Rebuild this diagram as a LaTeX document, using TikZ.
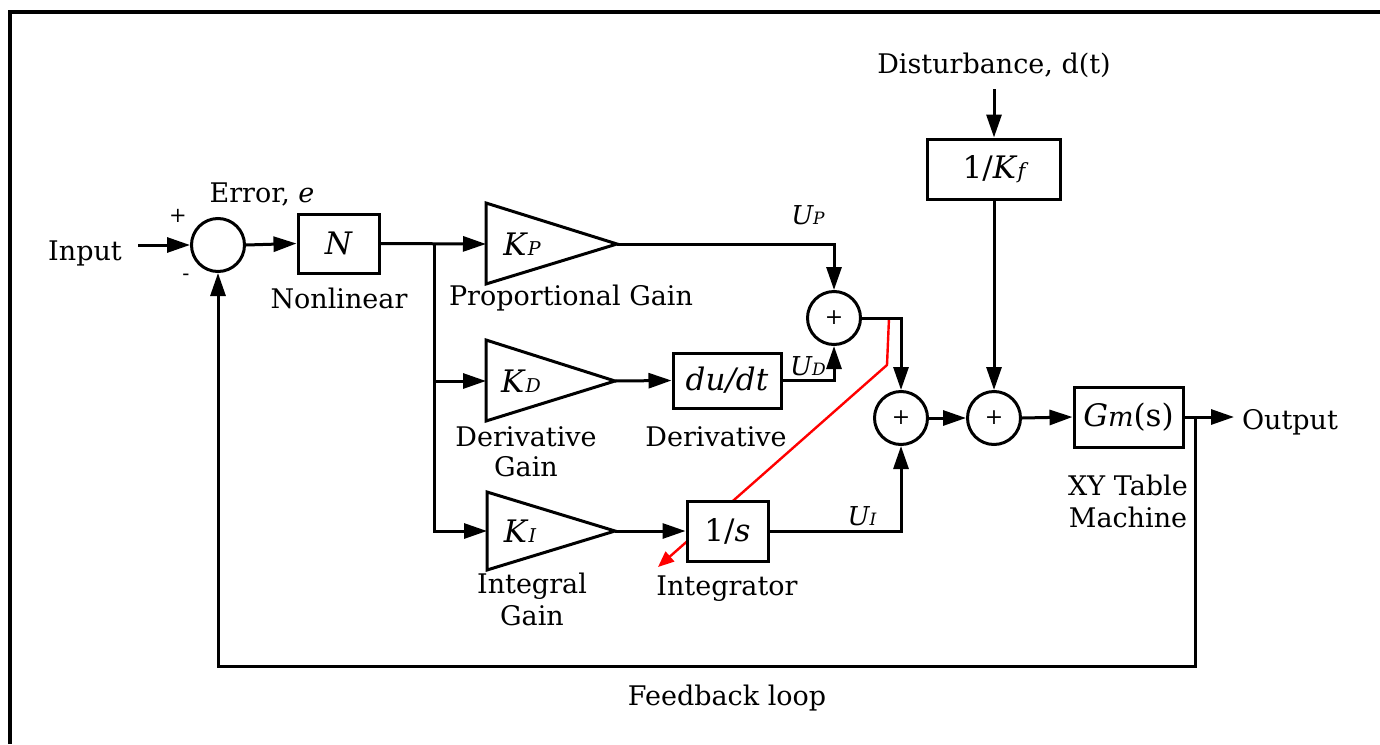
\documentclass[tikz,border=0pt]{standalone}
\usepackage{fontspec}
\setmainfont{DejaVu Serif}
\usetikzlibrary{arrows.meta}
\begin{document}
\begin{tikzpicture}[x=1pt,y=-1pt,line width=3pt,
  >={Triangle[length=23pt,width=15pt]},
  txt/.style={font=\fontsize{27}{30}\selectfont,inner sep=0pt,anchor=base},
  big/.style={font=\fontsize{31}{34}\selectfont},
  blk/.style={draw,fill=white,inner sep=0pt},
  sumc/.style={draw,fill=white,circle,minimum size=53pt,inner sep=0pt,font=\fontsize{22}{24}\selectfont},
  gain/.style={draw,line join=miter},
  lbl/.style={font=\fontsize{26}{28}\selectfont\itshape,inner sep=0pt},
  sgn/.style={font=\fontsize{21}{22}\selectfont,inner sep=0pt},
  redline/.style={draw=red,line width=2.4pt,-{Triangle[length=16pt,width=13pt]}}]

\useasboundingbox (0,0) rectangle (1380,744);
\draw[line width=4.5pt] (10,744) -- (10,12) -- (1380,12);

% red line (behind the integrator block)
\coordinate (r1) at (889,318);
\coordinate (r2) at (887,365);
\coordinate (r3) at (658,567);
\draw[redline] (r1) -- (r2) -- (r3);

% summing junctions
\node[sumc] (s1) at (218,245) {};
\node[sumc] (s2) at (834,318) {+};
\node[sumc] (s3) at (901,418) {+};
\node[sumc] (s4) at (994,418) {+};

% blocks
\node[blk,minimum width=81pt,minimum height=59pt,big] (N) at (338.5,243.5) {\itshape N};
\node[blk,minimum width=108pt,minimum height=55pt,big] (dd) at (727,380.5) {\itshape du/dt};
\node[blk,minimum width=81pt,minimum height=60pt,big] (is) at (727.5,531) {1/\textit{s}};
\node[blk,minimum width=133pt,minimum height=60pt,big] (kf) at (994,169) {1/\textit{K}{\fontsize{21}{22}\selectfont\itshape f}};
\node[blk,minimum width=109pt,minimum height=60pt,big] (gm) at (1128.5,417) {\textit{G}{\fontsize{27}{28}\selectfont\itshape m}(s)};

% gain triangles
\draw[gain] (486,203) -- (617,244) -- (486,284) -- cycle;
\coordinate (kpi) at (486,244); \coordinate (kpo) at (617,244);
\node[big,inner sep=0pt] (kp) at (522,244) {\textit{K}{\fontsize{19}{20}\selectfont\itshape P}};
\draw[gain] (486,340) -- (615,381) -- (486,421) -- cycle;
\coordinate (kdi) at (486,381); \coordinate (kdo) at (615,381);
\node[big,inner sep=0pt] (kd) at (521,381) {\textit{K}{\fontsize{19}{20}\selectfont\itshape D}};
\draw[gain] (487,492) -- (615,531) -- (487,570) -- cycle;
\coordinate (kii) at (487,531); \coordinate (kio) at (615,531);
\node[big,inner sep=0pt] (ki) at (520,531) {\textit{K}{\fontsize{19}{20}\selectfont\itshape I}};

% texts
\node[txt] (tin) at (85,260) {Input};
\node[txt] (terr) at (262,202) {Error, \textit{e}};
\node[sgn] (tplus) at (178,216) {+};
\node[sgn] (tminus) at (186,277) {-};
\node[txt] (tnl) at (339,308) {Nonlinear};
\node[txt] (tpg) at (571,305) {Proportional Gain};
\node[txt] (tdg1) at (526,446) {Derivative};
\node[txt] (tdg2) at (526,476) {Gain};
\node[txt] (tder) at (716,446) {Derivative};
\node[txt] (tig1) at (532,593) {Integral};
\node[txt] (tig2) at (532,625) {Gain};
\node[txt] (tint) at (727,595) {Integrator};
\node[txt] (txy1) at (1128,495) {XY Table};
\node[txt] (txy2) at (1128,527) {Machine};
\node[txt] (tout) at (1290,429) {Output};
\node[txt] (tdist) at (994,73) {Disturbance, d(t)};
\node[txt] (tfb) at (727,705) {Feedback loop};
\node[lbl] (up) at (808,215) {U{\fontsize{17}{18}\selectfont P}};
\node[lbl] (ud) at (808,366) {U{\fontsize{17}{18}\selectfont D}};
\node[lbl] (ui) at (862,516) {U{\fontsize{17}{18}\selectfont I}};

% connectors
\coordinate (inS) at (138,245);
\draw[->] (inS) -- (s1.west);
\draw[->] (s1.east) -- (N.west);
\coordinate (br) at (434,244);
\draw[->] (N.east) -- (kpi);
\draw[->] (br) |- (kdi);
\draw[->] (br) |- (kii);
\draw[->] (kpo) -| (s2.north);
\draw[->] (kdo) -- (dd.west);
\draw[->] (dd.east) -| (s2.south);
\draw[->] (kio) -- (is.west);
\draw[->] (is.east) -| (s3.south);
\draw[->] (s2.east) -| (s3.north);
\draw[->] (s3.east) -- (s4.west);
\coordinate (d0) at (994,89);
\draw[->] (d0) -- (kf.north);
\draw[->] (kf.south) -- (s4.north);
\draw[->] (s4.east) -- (gm.west);
\coordinate (oe) at (1234,417);
\draw[->] (gm.east) -- (oe);
\coordinate (fb) at (1195,417);
\coordinate (fbr) at (1195,666);
\coordinate (fbl) at (218,666);
\draw[->] (fb) -- (fbr) -- (fbl) -- (s1.south);
\end{tikzpicture}
\end{document}
